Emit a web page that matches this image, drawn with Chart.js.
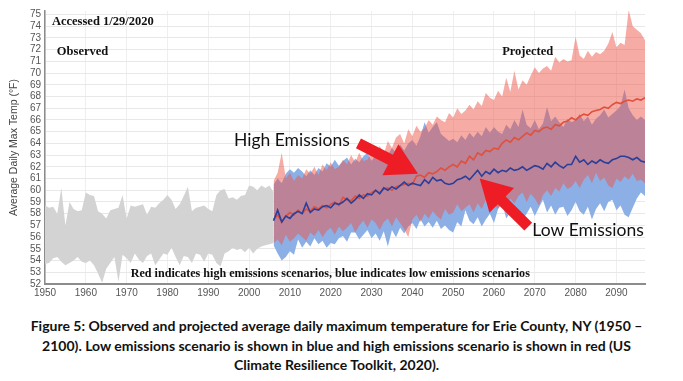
<!DOCTYPE html>
<html><head><meta charset="utf-8">
<script src="https://cdn.jsdelivr.net/npm/chart.js@4/dist/chart.umd.min.js"></script>
<style>
html,body{margin:0;padding:0;background:#fff;width:683px;height:381px;overflow:hidden}
#wrap{position:relative;width:683px;height:300px}
#cap{font-family:Lato,"Open Sans",sans-serif;font-weight:bold;font-size:14px;text-align:center;line-height:19.5px;color:#111;margin-top:16px;padding-right:10px}
</style></head><body>
<div id="wrap"><canvas id="c"></canvas></div>
<div id="cap">Figure 5: Observed and projected average daily maximum temperature for Erie County, NY (1950 –<br>2100). Low emissions scenario is shown in blue and high emissions scenario is shown in red (US<br>Climate Resilience Toolkit, 2020).</div>
<script>
// ---- data ----
const obsStart = 1950;
const projStart = 2006;
const xTicks = [1950,1960,1970,1980,1990,2000,2010,2020,2030,2040,2050,2060,2070,2080,2090];
const yTicks = [52,53,54,55,56,57,58,59,60,61,62,63,64,65,66,67,68,69,70,71,72,73,74,75];

const obsHi = [58.7,58.5,58.6,58.0,60.2,57.0,59.0,58.4,58.2,58.3,
  59.8,59.6,59.5,58.2,58.0,57.6,58.3,58.4,58.5,59.6,
  57.6,58.7,58.6,58.7,58.8,57.9,58.6,58.5,58.9,59.2,
  59.6,59.2,58.4,58.8,59.5,60.3,58.2,58.5,58.6,58.7,
  58.4,58.2,59.6,60.0,60.1,59.3,59.4,59.2,59.5,59.6,
  60.4,60.3,60.0,60.4,60.2,60.4,59.8];
const obsLo = [53.7,53.8,54.2,54.3,53.9,53.6,53.8,54.0,54.3,53.9,
  53.8,54.0,53.6,52.9,52.1,53.3,53.8,54.3,52.2,54.5,
  54.2,53.8,54.6,54.1,53.8,54.4,54.6,53.6,54.1,54.6,
  54.5,55.1,54.3,53.6,54.4,54.3,53.8,54.6,54.5,53.9,
  54.6,54.5,53.8,53.5,54.6,54.8,55.1,54.9,55.0,54.7,
  55.1,54.6,55.0,55.2,55.3,55.4,55.5];

const highUpper = [60.8,61.5,63.2,61.0,61.5,60.8,61.3,61.0,61.8,61.4,
  62.0,61.3,62.2,61.7,62.4,61.8,62.0,62.6,62.2,63.0,
  62.4,63.2,62.5,62.6,63.3,62.9,63.8,63.1,64.2,63.6,
  64.5,64.8,64.0,65.2,64.6,65.5,65.0,65.3,66.0,65.6,
  66.3,66.0,65.8,66.6,66.2,67.0,66.5,66.8,67.3,66.9,
  67.6,67.2,68.3,67.9,67.7,68.5,68.0,69.6,68.4,70.2,
  68.6,69.4,69.0,69.8,70.5,70.0,70.4,70.6,70.2,71.4,
  70.9,71.2,71.0,71.1,73.1,71.5,71.2,71.9,71.4,71.8,
  71.6,71.9,72.5,73.5,72.2,72.6,72.4,75.4,74.0,73.7,
  73.4,72.8];
const highLower = [55.5,55.8,55.3,56.2,55.6,55.9,56.3,56.0,55.7,56.4,
  56.1,56.6,56.0,56.5,56.8,56.2,56.9,56.5,56.8,57.2,
  56.4,57.0,57.4,56.8,57.5,57.2,56.6,57.3,57.6,56.9,
  57.7,57.2,56.7,56.0,57.5,57.9,57.3,58.0,57.6,58.2,
  57.8,57.5,58.4,57.9,58.1,58.8,58.2,58.5,58.8,58.1,
  58.9,58.4,59.2,58.6,58.8,58.4,59.1,58.6,59.3,58.9,
  59.5,59.8,59.0,59.7,59.3,58.7,59.6,60.0,59.5,60.2,
  59.9,60.6,60.1,60.3,60.8,60.2,60.9,61.3,60.6,61.5,
  60.8,61.1,60.4,60.2,61.0,60.7,61.2,60.9,61.4,60.8,
  60.9,60.6];
const highMedian = [57.5,57.9,57.3,57.8,58.1,57.9,58.3,58.0,58.4,58.2,
  58.6,58.4,58.7,58.5,58.8,59.0,58.7,59.4,59.2,59.1,
  59.5,59.3,59.6,59.5,59.8,60.0,59.8,60.1,60.2,60.0,
  60.3,60.4,60.5,60.6,60.5,61.2,61.3,61.1,61.5,61.4,
  61.6,61.9,61.7,62.0,62.2,62.0,62.5,62.3,62.9,62.6,
  63.2,63.0,63.4,63.3,63.6,63.5,64.0,64.3,64.1,64.5,
  64.3,64.6,64.9,64.7,65.1,65.0,65.3,65.4,65.2,65.6,
  65.5,65.8,65.9,66.2,66.0,66.3,66.5,66.4,66.7,66.8,
  66.9,67.1,67.0,67.3,67.5,67.4,67.6,67.7,67.6,67.8,
  67.7,67.9];
const lowUpper = [60.5,61.0,60.6,61.4,61.8,61.5,61.9,61.6,61.2,61.7,
  61.3,61.9,61.6,62.3,62.0,62.6,62.1,62.5,62.8,62.2,
  62.7,62.4,62.9,63.2,62.5,63.0,62.8,63.4,63.0,63.6,
  63.2,63.9,63.4,64.0,64.3,63.8,64.6,65.8,64.9,65.4,
  65.8,64.8,64.5,64.2,64.4,64.1,64.7,64.3,64.9,64.5,
  65.0,64.6,65.4,64.9,65.4,65.0,64.8,65.6,65.2,66.0,
  65.4,66.9,65.6,65.3,66.0,65.2,65.7,67.1,65.9,66.3,
  65.8,65.4,66.1,65.8,66.0,66.5,65.9,66.3,65.6,66.1,
  66.4,66.9,66.2,66.5,66.8,67.2,68.6,67.0,66.4,66.0,
  66.3,66.0];
const lowLower = [55.3,54.6,54.0,54.3,54.8,54.5,55.8,55.1,55.6,55.2,
  55.9,55.4,55.7,55.1,55.5,55.4,55.9,56.1,55.6,56.4,
  56.4,55.8,56.2,56.6,55.9,56.3,55.7,56.5,55.2,56.6,
  56.0,56.8,56.3,56.9,57.2,56.7,57.5,56.9,57.3,56.8,
  57.4,56.7,57.0,56.6,56.4,57.3,56.9,58.3,57.4,57.1,
  57.7,56.9,57.5,58.0,57.2,58.4,58.9,57.6,58.1,57.4,
  58.2,57.5,58.0,58.6,57.8,58.5,59.2,58.1,58.7,57.9,
  58.5,58.6,57.8,58.3,59.0,58.2,57.9,58.6,57.5,58.4,
  58.9,58.2,59.0,59.2,58.3,58.7,57.9,57.7,58.5,59.3,
  59.8,59.5];
const lowMedian = [57.4,58.3,57.3,57.8,57.6,58.0,58.2,58.0,58.9,58.1,
  58.4,58.3,58.6,58.7,58.5,58.9,58.8,59.0,59.3,58.9,
  59.2,59.6,59.3,59.7,59.6,60.0,59.7,60.2,60.0,60.3,
  60.1,60.4,60.7,60.4,60.6,60.5,60.4,60.9,60.6,61.1,
  60.8,60.9,60.6,60.5,60.6,60.9,61.0,61.2,60.9,61.3,
  61.7,61.2,61.6,61.4,61.8,61.5,61.7,61.6,61.9,61.7,
  61.8,62.0,61.7,61.9,62.1,62.0,61.8,62.3,62.0,62.4,
  62.1,61.9,62.2,62.2,62.9,62.4,62.6,62.2,62.5,62.3,
  62.6,62.4,62.3,62.6,62.7,62.9,62.9,62.8,62.6,62.8,
  62.5,62.4];

// ---- annotations (data-space anchors) ----
const notes = [
  {text:'Accessed 1/29/2020', x:1951.7, y:74.35, font:'bold 12.5px "Liberation Serif"', color:'#111', align:'left'},
  {text:'Observed', x:1952.9, y:71.8, font:'bold 12.5px "Liberation Serif"', color:'#111', align:'left'},
  {text:'Projected', x:2062.0, y:71.8, font:'bold 12.5px "Liberation Serif"', color:'#111', align:'left'},
  {text:'Red indicates high emissions scenarios, blue indicates low emissions scenarios', x:2019.9, y:52.85, font:'bold 12.1px "Liberation Serif"', color:'#111', align:'center'},
  {text:'High Emissions', x:1996.3, y:64.3, font:'17.5px Lato', color:'#111', align:'left'},
  {text:'Low Emissions', x:2069.4, y:56.6, font:'17.5px Lato', color:'#111', align:'left'}
];
const arrows = [
  {from:[2026.8,64.0], to:[2041.4,61.4]},
  {from:[2068.4,56.9], to:[2056.5,61.0]}
];

// ---- build ----
const pts = (arr, start) => arr.map((v,i)=>({x:start+i, y:v}));
const band = (data, color, order, fill) => ({
  data, fill, backgroundColor: color, borderColor:'rgba(0,0,0,0)', borderWidth:0,
  pointRadius:0, tension:0, order
});

const annot = {
  id:'annot',
  afterDatasetsDraw(chart){
    const {ctx, scales:{x, y}} = chart;
    ctx.save();
    ctx.fillStyle = '#ee1c24';
    arrows.forEach(a=>{
      const tx = x.getPixelForValue(a.from[0]), ty = y.getPixelForValue(a.from[1]);
      const px = x.getPixelForValue(a.to[0]), py = y.getPixelForValue(a.to[1]);
      const len = Math.hypot(px-tx, py-ty);
      const dx = (px-tx)/len, dy = (py-ty)/len;
      const nx = -dy, ny = dx;
      const w1 = 5.5, w2 = 17.5, hl = 31;
      const bx = px - dx*hl, by = py - dy*hl;
      ctx.beginPath();
      ctx.moveTo(tx+nx*w1, ty+ny*w1);
      ctx.lineTo(bx+nx*w1, by+ny*w1);
      ctx.lineTo(bx+nx*w2, by+ny*w2);
      ctx.lineTo(px, py);
      ctx.lineTo(bx-nx*w2, by-ny*w2);
      ctx.lineTo(bx-nx*w1, by-ny*w1);
      ctx.lineTo(tx-nx*w1, ty-ny*w1);
      ctx.closePath();
      ctx.fill();
    });
    notes.forEach(n=>{
      ctx.font = n.font;
      ctx.fillStyle = n.color;
      ctx.textAlign = n.align;
      ctx.textBaseline = 'middle';
      ctx.fillText(n.text, x.getPixelForValue(n.x), y.getPixelForValue(n.y));
    });
    ctx.restore();
  }
};

new Chart(document.getElementById('c'), {
  type:'line',
  data:{datasets:[
    band(pts(obsHi, obsStart), '#d3d3d3', 10, '+1'),
    band(pts(obsLo, obsStart), 'rgba(0,0,0,0)', 10, false),
    band(pts(lowUpper, projStart), 'rgb(140,176,230)', 9, '+1'),
    band(pts(lowLower, projStart), 'rgba(0,0,0,0)', 9, false),
    band(pts(highUpper, projStart), 'rgba(238,80,66,0.48)', 8, '+1'),
    band(pts(highLower, projStart), 'rgba(0,0,0,0)', 8, false),
    {data:pts(highMedian, projStart), borderColor:'#e0503c', borderWidth:1.6, pointRadius:0, fill:false, tension:0, order:2},
    {data:pts(lowMedian, projStart), borderColor:'#2b3e98', borderWidth:1.6, pointRadius:0, fill:false, tension:0, order:1}
  ]},
  options:{
    responsive:true, maintainAspectRatio:false, animation:false, devicePixelRatio:1,
    layout:{padding:{top:11, right:38, left:0, bottom:0}},
    plugins:{legend:{display:false}, tooltip:{enabled:false}},
    scales:{
      x:{type:'linear', min:1950, max:2097,
        afterBuildTicks: s => { s.ticks = xTicks.map(v=>({value:v})); },
        afterFit: s => { s.height = 16; },
        ticks:{callback: v => String(v), font:{family:'"Liberation Sans"', size:10}, color:'#555', padding:3, maxRotation:0, autoSkip:false},
        grid:{color:'#efefef', drawTicks:false},
        border:{color:'#8c8c8c', width:2}
      },
      y:{type:'linear', min:52, max:75.3,
        afterBuildTicks: s => { s.ticks = yTicks.map(v=>({value:v})); },
        afterFit: s => { s.width = 45; },
        ticks:{font:{family:'"Liberation Sans"', size:10}, color:'#555', padding:4, autoSkip:false},
        grid:{color:'#e8e8e8', drawTicks:false},
        border:{color:'#8c8c8c', width:1.5},
        title:{display:true, text:'Average Daily Max Temp (°F)', font:{family:'"Liberation Sans"', size:10.5}, color:'#444', padding:{top:8, bottom:0}}
      }
    }
  },
  plugins:[annot]
});
</script>
</body></html>
